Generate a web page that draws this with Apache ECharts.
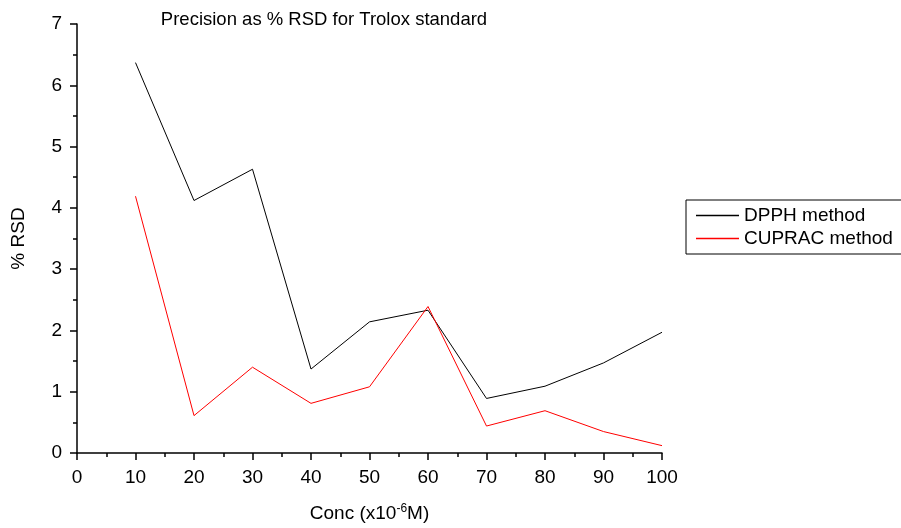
<!DOCTYPE html>
<html><head><meta charset="utf-8">
<script src="https://cdn.jsdelivr.net/npm/echarts@6/dist/echarts.min.js"></script>
<style>html,body{margin:0;padding:0;background:#fff}#c{width:901px;height:528px}</style>
</head><body><div id="c"></div>
<script>
const conc = [10, 20, 30, 40, 50, 60, 70, 80, 90, 100];
const dpph = [6.37, 4.12, 4.63, 1.37, 2.14, 2.33, 0.89, 1.09, 1.47, 1.97];
const cuprac = [4.19, 0.61, 1.40, 0.81, 1.08, 2.39, 0.44, 0.69, 0.35, 0.12];
const seriesNames = ['DPPH method', 'CUPRAC method'];
const titleText = 'Precision as % RSD for Trolox standard';

const font = 'Arial, "Liberation Sans", sans-serif';
const chart = echarts.init(document.getElementById('c'), null, {renderer: 'canvas'});
const axisCommon = {
  axisLine: {show: true, onZero: false, lineStyle: {color: '#000', width: 1.5}},
  axisTick: {show: true, inside: false, length: 7, lineStyle: {color: '#000', width: 1.5}},
  minorTick: {show: true, splitNumber: 2, length: 4, lineStyle: {color: '#000', width: 1.5}},
  splitLine: {show: false},
  axisLabel: {color: '#000', fontSize: 19, fontFamily: font, margin: 15}
};
chart.setOption({
  animation: false,
  backgroundColor: '#fff',
  title: {text: titleText, left: 319, top: 5, textAlign: 'center',
    textStyle: {fontSize: 18.5, fontWeight: 'normal', color: '#000', fontFamily: font}},
  grid: {left: 77, right: 239, top: 24, bottom: 72, containLabel: false},
  legend: {
    orient: 'vertical', left: 686, top: 200,
    data: seriesNames,
    icon: 'rect', itemWidth: 43, itemHeight: 1.5, itemGap: 4,
    borderColor: '#000', borderWidth: 1,
    padding: [6, 25, 6, 10],
    textStyle: {fontSize: 19, color: '#000', fontFamily: font}
  },
  xAxis: Object.assign({}, axisCommon, {
    type: 'value', min: 0, max: 100, interval: 10,
    name: 'Conc (x10{sup|-6}M)', nameLocation: 'middle', nameGap: 50,
    nameTextStyle: {fontSize: 19, color: '#000', fontFamily: font,
      rich: {sup: {fontSize: 12, verticalAlign: 'top', padding: [0, 0, 9, 0], color: '#000', fontFamily: font}}}
  }),
  yAxis: Object.assign({}, axisCommon, {
    type: 'value', min: 0, max: 7, interval: 1,
    name: '% RSD', nameLocation: 'middle', nameGap: 49, nameRotate: 90,
    nameTextStyle: {fontSize: 19, color: '#000', fontFamily: font}
  }),
  series: [
    {name: seriesNames[0], type: 'line', data: conc.map((x, i) => [x, dpph[i]]),
      showSymbol: false, symbol: 'none', lineStyle: {color: '#000', width: 1}, itemStyle: {color: '#000'}},
    {name: seriesNames[1], type: 'line', data: conc.map((x, i) => [x, cuprac[i]]),
      showSymbol: false, symbol: 'none', lineStyle: {color: '#ff0000', width: 1}, itemStyle: {color: '#ff0000'}}
  ]
});
</script></body></html>
